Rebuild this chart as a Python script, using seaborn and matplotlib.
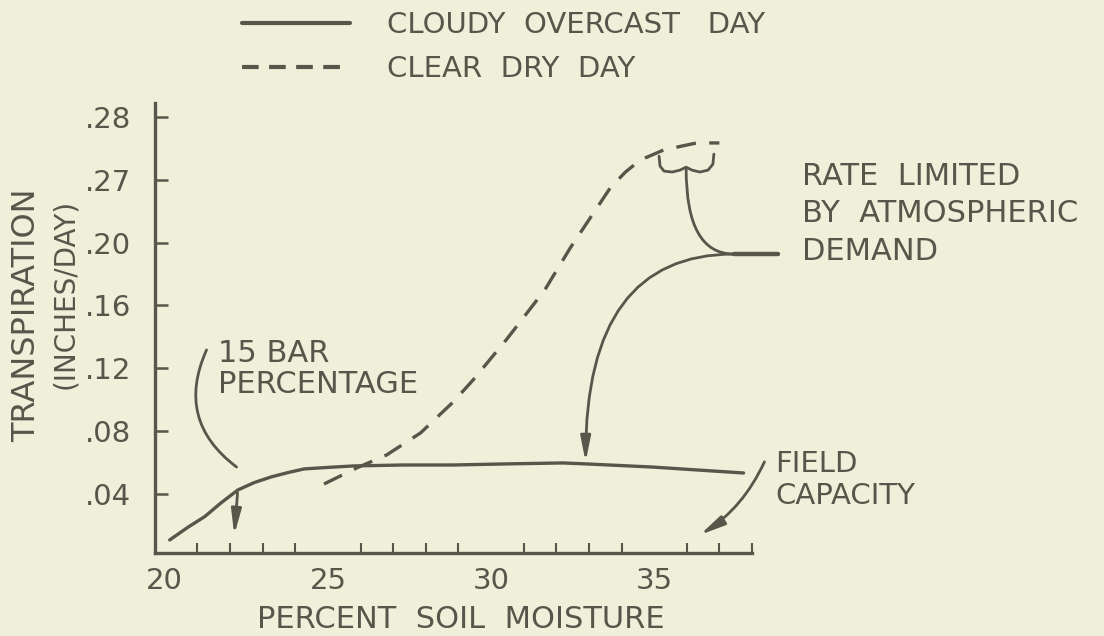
import pandas as pd
import seaborn as sns
import matplotlib.pyplot as plt
from matplotlib.lines import Line2D

# colours of the scanned drawing
ink = "#57564a"
paper = "#eef0d9"

# curves (x = percent soil moisture, y = transpiration)
cloudy_x = [20.15, 20.71, 21.22, 21.73, 22.24, 22.74, 23.26, 23.76, 24.27, 25.03,
            25.79, 27.32, 28.84, 30.5, 32.2, 32.9, 34.94, 37.74]
cloudy_y = [0.0108, 0.0189, 0.0256, 0.0345, 0.0426, 0.0473, 0.0509, 0.0536, 0.0560, 0.0570,
            0.0579, 0.0585, 0.0585, 0.0592, 0.0598, 0.0592, 0.0572, 0.0534]

clear_x = [24.88, 25.88, 26.8, 27.84, 28.84, 29.45, 30.46, 30.76, 31.65, 32.44,
           33.2, 33.66, 34.12, 34.57, 35.3, 36.3, 37.0]
clear_y = [0.0464, 0.0566, 0.0649, 0.0789, 0.0986, 0.1126, 0.138, 0.146, 0.170, 0.197,
           0.2207, 0.235, 0.2449, 0.2525, 0.259, 0.2634, 0.2634]

# axis ticks (the original scale is labelled oddly, kept as printed)
y_ticks = [0.04, 0.08, 0.12, 0.16, 0.20, 0.24, 0.28]
y_labels = [".04", ".08", ".12", ".16", ".20", ".27", ".28"]
x_major = [20, 25, 30, 35]
x_minor = list(range(21, 39))

# hand drawn leaders of the notes (start, end)
bar_lead = [(21.28, 0.1317), (22.2, 0.0572)]
bar_arrow = [(22.23, 0.0407), (22.13, 0.014)]
field_lead = [(38.38, 0.0605), (36.4, 0.014)]
demand_tail = [(38.81, 37.44), (0.1927, 0.1927)]
demand_lead = [(37.44, 0.1927), (32.9, 0.0604)]
stem_lead = [(35.98, 0.2468), (37.44, 0.1927)]
brace_x = [35.15, 35.18, 35.30, 35.55, 35.79, 35.98, 36.16, 36.40, 36.65, 36.80, 36.83]
brace_y = [0.2550, 0.2487, 0.2455, 0.2449, 0.2461, 0.2480, 0.2461, 0.2449, 0.2461, 0.2499, 0.2563]

sns.set_style("ticks")
plt.rcParams['font.family'] = ['DejaVu Sans']

fig = plt.figure(figsize=(11.04, 6.36), dpi=100, facecolor=paper)
ax = fig.add_axes([0.1404, 0.1305, 0.5408, 0.7075], facecolor=paper)

df_cloudy = pd.DataFrame({"moisture": cloudy_x, "rate": cloudy_y})
df_clear = pd.DataFrame({"moisture": clear_x, "rate": clear_y})

sns.lineplot(data=df_cloudy, x="moisture", y="rate", ax=ax, color=ink, lw=2.4,
             sort=False, estimator=None)
sns.lineplot(data=df_clear, x="moisture", y="rate", ax=ax, color=ink, lw=2.4,
             sort=False, estimator=None)
ax.lines[-1].set_dashes((6, 4))

ax.set_xlim(19.7, 37.95)
ax.set_ylim(0.0025, 0.2888)

# axes drawn like the original: only left and bottom, ticks pointing in
sns.despine(ax=ax)
for side in ["left", "bottom"]:
    ax.spines[side].set_color(ink)
    ax.spines[side].set_linewidth(2.4)
ax.set_yticks(y_ticks)
ax.set_yticklabels(y_labels)
ax.set_xticks(x_major)
ax.set_xticklabels([str(v) for v in x_major])
ax.set_xticks(x_minor, minor=True)
ax.tick_params(axis="y", direction="in", length=9, width=1.8, color=ink,
               labelcolor=ink, labelsize=21, pad=17)
ax.tick_params(axis="x", which="major", length=0, labelcolor=ink,
               labelsize=21, pad=10)
ax.tick_params(axis="x", which="minor", direction="in", length=7, width=1.5, color=ink)
ax.set_xlabel("")
ax.set_ylabel("")

# axis titles
fig.text(0.0245, 0.505, "TRANSPIRATION", rotation=90, ha="center", va="center",
         fontsize=23, color=ink)
fig.text(0.059, 0.538, "(INCHES/DAY)", rotation=90, ha="center", va="center",
         fontsize=20, color=ink)
fig.text(0.417, 0.026, "PERCENT  SOIL  MOISTURE", ha="center", va="center",
         fontsize=22, color=ink)

# notes and their leaders
def leader(start, end, conn, head=True):
    style = "-|>,head_length=0.75,head_width=0.15" if head else "-"
    ax.annotate("", xy=end, xytext=start, annotation_clip=False,
                arrowprops=dict(arrowstyle=style, color=ink, lw=2.0,
                                shrinkA=0, shrinkB=0, mutation_scale=20,
                                connectionstyle=conn))

ax.text(21.62, 0.1196, "15 BAR\nPERCENTAGE", fontsize=22, color=ink,
        ha="left", va="center", linespacing=1.05)
leader(bar_lead[0], bar_lead[1], "arc3,rad=0.4", head=False)
leader(bar_arrow[0], bar_arrow[1], "arc3,rad=0")

leader(field_lead[0], field_lead[1], "arc3,rad=-0.15")
fig.text(775 / 1104, 1 - 480 / 636, "FIELD\nCAPACITY", fontsize=21, color=ink,
         ha="left", va="center", linespacing=1.17)

ax.plot(demand_tail[0], demand_tail[1], color=ink, lw=3.2, clip_on=False,
        solid_capstyle="round")
leader(demand_lead[0], demand_lead[1], "angle3,angleA=0,angleB=90")
leader(stem_lead[0], stem_lead[1], "angle3,angleA=90,angleB=0", head=False)
ax.plot(brace_x, brace_y, color=ink, lw=2.0, clip_on=False, solid_capstyle="round")
fig.text(802 / 1104, 1 - 214 / 636, "RATE  LIMITED\nBY  ATMOSPHERIC\nDEMAND",
         fontsize=22, color=ink, ha="left", va="center", linespacing=1.37)

# legend above the plot
handles = [Line2D([], [], color=ink, lw=3.0),
           Line2D([], [], color=ink, lw=3.0, dashes=(4, 2.5))]
fig.legend(handles, ["CLOUDY  OVERCAST   DAY", "CLEAR  DRY  DAY"],
           loc="upper left", bbox_to_anchor=(0.219, 0.983), frameon=False,
           fontsize=21, labelcolor=ink, handlelength=3.7, handletextpad=1.27,
           labelspacing=0.55, borderpad=0, borderaxespad=0)

fig.savefig("out.png", dpi=100, facecolor=paper)
